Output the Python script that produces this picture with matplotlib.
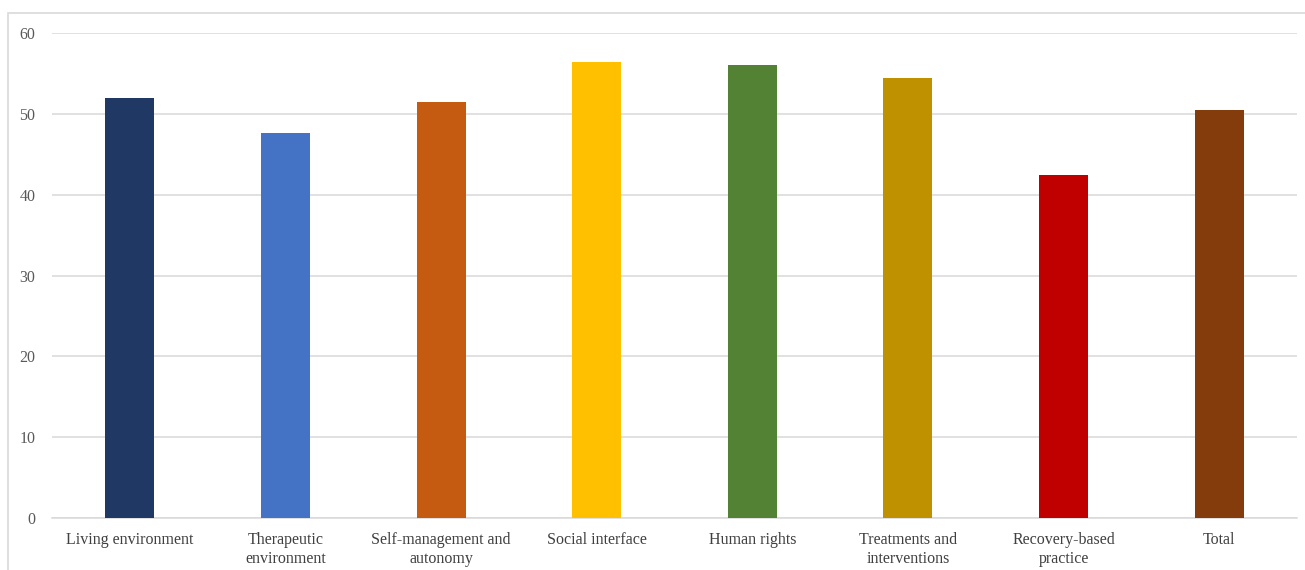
import numpy as np
import matplotlib
matplotlib.use('Agg')
import matplotlib.pyplot as plt
from matplotlib.patches import Rectangle

# data
categories = ['Living environment', 'Therapeutic\nenvironment', 'Self-management and\nautonomy',
              'Social interface', 'Human rights', 'Treatments and\ninterventions',
              'Recovery-based\npractice', 'Total']
values = [51.9, 47.6, 51.5, 56.4, 56.1, 54.4, 42.4, 50.5]
colors = ['#1f3864', '#4472c4', '#c55a11', '#ffc000', '#548235', '#bf9000', '#c00000', '#843c0c']

plt.rcParams['font.family'] = ['Liberation Serif', 'DejaVu Serif']

fig = plt.figure(figsize=(13.05, 5.7), dpi=100)
ax = fig.add_axes([52/1305, 1-518/570, (1297-52)/1305, (518-33)/570])

# outer chart border
fig.patches.append(Rectangle((8/1305, -0.1), 1.2, 1.1-13/570, transform=fig.transFigure,
                             fill=False, edgecolor='#d9d9d9', linewidth=1.2))

x = np.arange(len(categories))
ax.bar(x, values, width=0.315, color=colors, zorder=3)

ax.set_xlim(-0.5, len(categories)-0.5)
ax.set_ylim(0, 60)
ax.set_yticks(np.arange(0, 61, 10))
ax.yaxis.grid(True, color='#d9d9d9', linewidth=1.1, zorder=0)
ax.set_axisbelow(True)

for s in ['top', 'right', 'left']:
    ax.spines[s].set_visible(False)
ax.spines['bottom'].set_color('#d9d9d9')
ax.spines['bottom'].set_linewidth(1.1)

ax.set_xticks(x)
ax.set_xticklabels(categories, fontsize=11.5, color='#404040', linespacing=1.22)
ax.tick_params(axis='x', length=0, pad=10)
ax.tick_params(axis='y', length=0, pad=12, labelsize=11.5, labelcolor='#595959')

plt.savefig('out.png', dpi=100)
